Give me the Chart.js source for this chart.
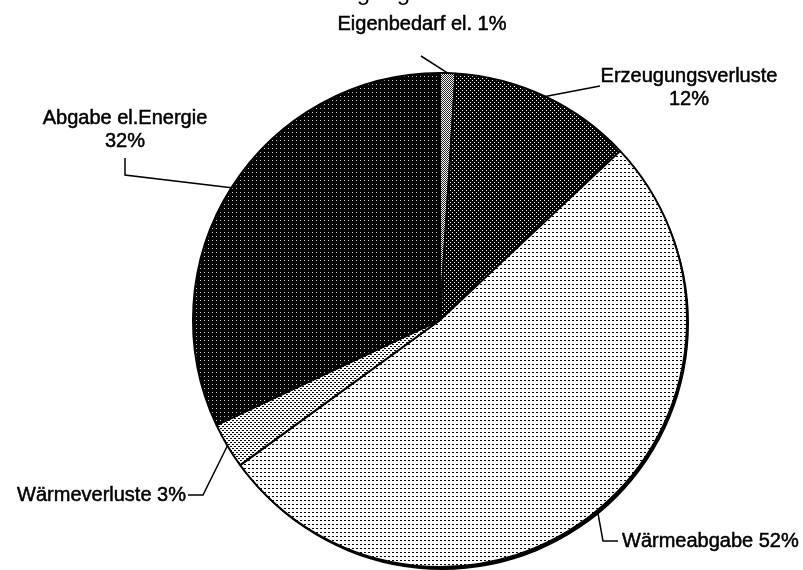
<!DOCTYPE html>
<html>
<head>
<meta charset="utf-8">
<script src="https://cdn.jsdelivr.net/npm/chart.js@4"></script>
<style>
  html, body { margin: 0; padding: 0; background: #fff; }
  #wrap { width: 803px; height: 570px; }
</style>
</head>
<body>
<div id="wrap"><canvas id="pie" width="803" height="570"></canvas></div>
<script>
  'use strict';

  /* ──────────────────────────────────
     Data
     ────────────────────────────────── */
  var categories = ['Eigenbedarf el.', 'Erzeugungsverluste', 'Wärmeabgabe', 'Wärmeverluste', 'Abgabe el.Energie'];
  var shares = [1, 12, 52, 3, 32];
  var titleText = 'Erzeugung';

  /* ──────────────────────────────────
     Fill patterns (scanned hatch look)
     ────────────────────────────────── */
  function makePattern(bg, fg, dots) {
    var c = document.createElement('canvas');
    c.width = 4;
    c.height = 4;
    var g = c.getContext('2d');
    g.fillStyle = bg;
    g.fillRect(0, 0, 4, 4);
    g.fillStyle = fg;
    dots.forEach(function (d) {
      g.fillRect(d[0], d[1], 1, 1);
    });
    return g.createPattern(c, 'repeat');
  }

  var fills = [
    makePattern('#fff', '#222', [[0, 0], [2, 0], [1, 1], [3, 1], [0, 2], [2, 2], [1, 3], [3, 3]]),
    makePattern('#000', '#fff', [[0, 0], [2, 2]]),
    makePattern('#fff', '#000', [[0, 0], [1, 0]]),
    makePattern('#fff', '#000', [[0, 0], [1, 0], [2, 2], [3, 2]]),
    makePattern('#000', '#ccc', [[0, 0]])
  ];

  /* ──────────────────────────────────
     Label layout (where each callout sits)
     ────────────────────────────────── */
  var labelLayout = [
    { lines: 1, x: 422, y: 24, align: 'center', path: [[421, 56]] },
    { lines: 2, x: 689, y: 76, align: 'center', path: [[600, 86]] },
    { lines: 1, x: 622, y: 541, align: 'left', path: [[603, 541], [618, 541]] },
    { lines: 1, x: 186, y: 495, align: 'right', path: [[203, 495], [188, 495]] },
    { lines: 2, x: 125, y: 118, align: 'center', path: [[125, 175], [125, 158]] }
  ];

  var FONT = '20px "Liberation Sans", Arial, sans-serif';
  var LINE_H = 23;

  /* ──────────────────────────────────
     Plugins
     ────────────────────────────────── */
  var shadowPlugin = {
    id: 'pieShadow',
    beforeDatasetsDraw: function (chart) {
      var arc = chart.getDatasetMeta(0).data[0];
      if (!arc) return;
      var ctx = chart.ctx;
      ctx.save();
      ctx.fillStyle = '#000';
      ctx.beginPath();
      ctx.arc(arc.x + 2, arc.y + 3, arc.outerRadius, 0, Math.PI * 2);
      ctx.fill();
      ctx.restore();
    }
  };

  var calloutPlugin = {
    id: 'callouts',
    afterDatasetsDraw: function (chart) {
      var ctx = chart.ctx;
      var arcs = chart.getDatasetMeta(0).data;
      ctx.save();
      ctx.font = FONT;
      ctx.fillStyle = '#000';
      ctx.strokeStyle = '#000';
      ctx.lineWidth = 1.5;

      arcs.forEach(function (arc, i) {
        var lay = labelLayout[i];
        var mid = (arc.startAngle + arc.endAngle) / 2;
        var px = arc.x + Math.cos(mid) * arc.outerRadius;
        var py = arc.y + Math.sin(mid) * arc.outerRadius;

        // leader line
        ctx.beginPath();
        ctx.moveTo(px, py);
        lay.path.forEach(function (p) {
          ctx.lineTo(p[0], p[1]);
        });
        ctx.stroke();

        // text (a hairline stroke thickens it like the scan)
        var pct = shares[i] + '%';
        ctx.textAlign = lay.align;
        ctx.textBaseline = 'middle';
        ctx.lineWidth = 0.5;
        var rows = lay.lines === 2 ? [categories[i], pct] : [categories[i] + ' ' + pct];
        rows.forEach(function (t, r) {
          ctx.fillText(t, lay.x, lay.y + r * LINE_H);
          ctx.strokeText(t, lay.x, lay.y + r * LINE_H);
        });
        ctx.lineWidth = 1.5;
      });

      // title, mostly cut off by the top edge as in the scan
      ctx.font = '24px "Liberation Sans", Arial, sans-serif';
      ctx.textAlign = 'center';
      ctx.textBaseline = 'alphabetic';
      ctx.fillText(titleText, 352, 0);
      ctx.restore();
    }
  };

  /* ──────────────────────────────────
     Chart
     ────────────────────────────────── */
  new Chart(document.getElementById('pie').getContext('2d'), {
    type: 'pie',
    data: {
      labels: categories,
      datasets: [
        {
          data: shares,
          backgroundColor: fills,
          hoverBackgroundColor: fills,
          borderColor: '#000',
          borderWidth: 2,
          borderAlign: 'center'
        }
      ]
    },
    options: {
      responsive: false,
      animation: false,
      events: [],
      layout: { padding: { top: 72, bottom: 2, left: 77, right: 0 } },
      plugins: {
        legend: { display: false },
        tooltip: { enabled: false },
        title: { display: false }
      }
    },
    plugins: [shadowPlugin, calloutPlugin]
  });
</script>
</body>
</html>
